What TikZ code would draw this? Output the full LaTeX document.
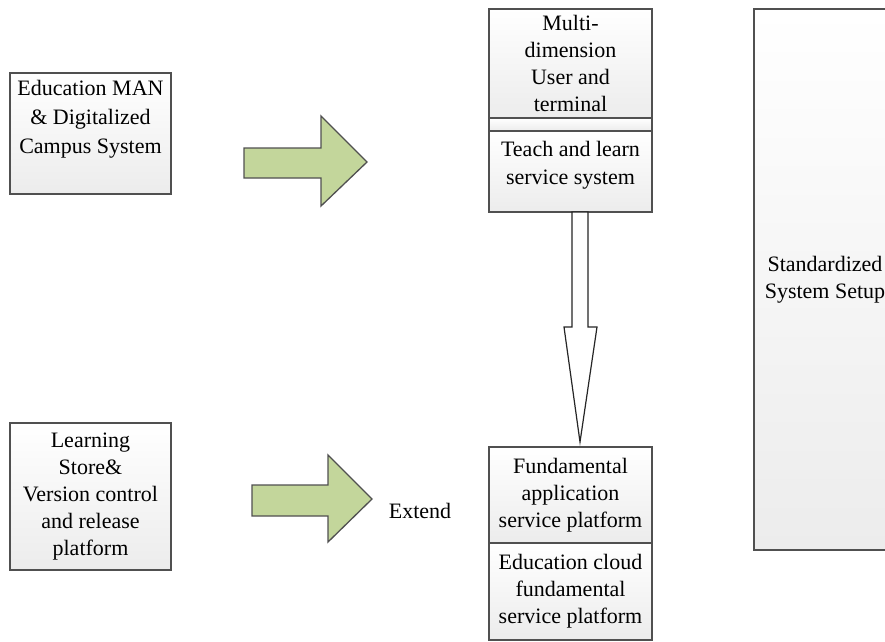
\documentclass[tikz,border=0pt]{standalone}
\usepackage{fontspec}
\setmainfont{LiberationSerif}[Extension=.ttf, UprightFont=*-Regular, BoldFont=*-Bold]
\usepackage{xcolor}
\definecolor{ArrowGreen}{HTML}{C3D69B}
\definecolor{EdgeGrey}{HTML}{505050}
\definecolor{PanelGrey}{HTML}{ECECEC}
\usepackage{tikz}
\usetikzlibrary{positioning, shadows}
\tikzstyle{block} = [rectangle, draw=EdgeGrey, top color=white, bottom color=PanelGrey, line width=1.3pt, inner sep=0pt, outer sep=0pt, align=center, font=\fontsize{22}{27}\selectfont, drop shadow={shadow xshift=1.2pt, shadow yshift=-1.2pt, opacity=0.25}]
\tikzstyle{plain} = [align=center, inner sep=0pt, font=\fontsize{22}{27}\selectfont]
\tikzstyle{fatarrow} = [draw=EdgeGrey, fill=ArrowGreen, line width=1.3pt, line join=miter]
\tikzstyle{thinarrow} = [draw=black!85, fill=white, line width=1.2pt, line join=miter]

\begin{document}
\begin{tikzpicture}[x=1pt, y=-1pt]
        \useasboundingbox[fill=white] (0,0) rectangle (885,641);
        \clip (0,0) rectangle (885,641);

        % left column
        \node [block, minimum width=161pt, minimum height=121pt] (campus) at (90.5,133.5) {};
        \node [plain, font=\fontsize{22}{29}\selectfont, below=7pt of campus.north] (campusText) {Education MAN\\\& Digitalized\\Campus System};
        \node [block, minimum width=161pt, minimum height=147pt] (store) at (90.5,496.5) {Learning\\Store\&\\Version control\\and release\\platform};

        % middle column
        \node [block, minimum width=163pt, minimum height=109pt] (user) at (570.5,63.5) {Multi-\\dimension\\User and\\terminal};
        \node [block, minimum width=163pt, minimum height=13pt, below=0pt of user] (strip) {};
        \node [block, minimum width=163pt, minimum height=81pt, below=0pt of strip] (teach) {};
        \node [plain, font=\fontsize{22}{28}\selectfont, below=10pt of teach.north] (teachText) {Teach and learn\\service system};

        \node [block, minimum width=163pt, minimum height=96pt] (fundApp) at (570.5,495) {Fundamental\\application\\service platform};
        \node [block, minimum width=163pt, minimum height=97pt, below=0pt of fundApp] (cloud) {Education cloud\\fundamental\\service platform};

        % right column
        \node [block, minimum width=142pt, minimum height=541pt] (setup) at (825,279.5) {Standardized\\System Setup};

        % block arrows
        \draw [fatarrow] (244,148) -- (321,148) -- (321,116) -- (367,162) -- (321,206) -- (321,178) -- (244,178) -- cycle;
        \draw [fatarrow] (252,485) -- (328,485) -- (328,455) -- (372,499) -- (328,542) -- (328,516) -- (252,516) -- cycle;
        \node [plain] (extend) at (420,511) {Extend};

        % down arrow
        \draw [thinarrow] ([xshift=1.5pt]teach.south) -- ++(0,115) -- ++(-8,0) -- ([xshift=9.5pt, yshift=5pt]fundApp.north) -- ++(17,-115) -- ++(-9,0) -- ([xshift=17.5pt]teach.south) -- cycle;
    \end{tikzpicture}
\end{document}
